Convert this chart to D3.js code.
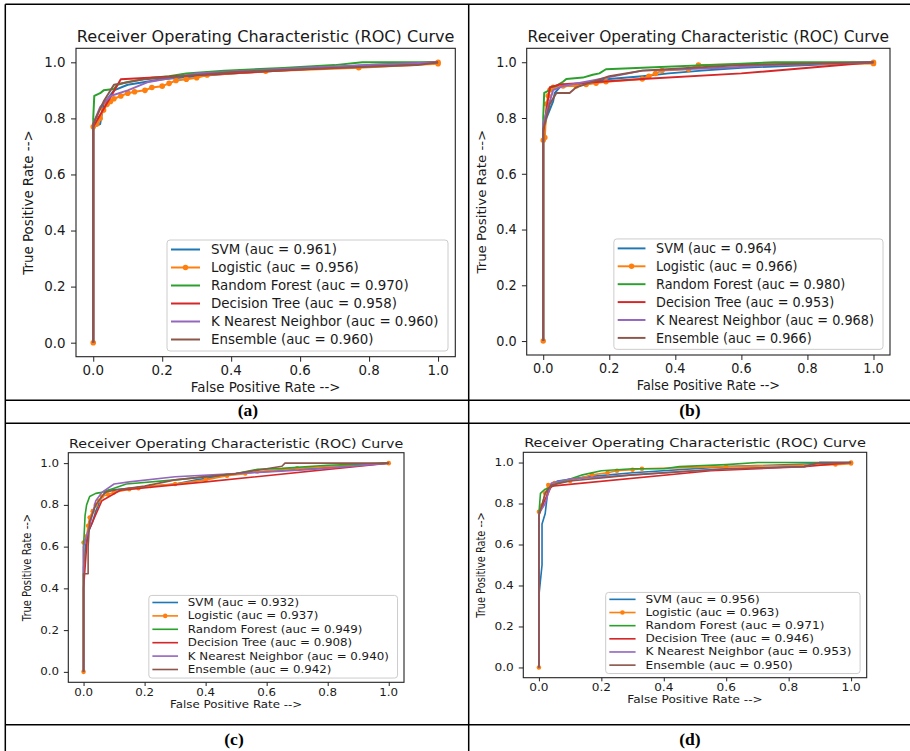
<!DOCTYPE html>
<html>
<head>
<meta charset="utf-8">
<script src="https://cdn.jsdelivr.net/npm/d3@7"></script>
<style>
  body { margin: 0; background: #fff; }
  svg { display: block; }
</style>
</head>
<body>
<script>
// ---- data -------------------------------------------------------------
const models = ["SVM", "Logistic", "Random Forest", "Decision Tree", "K Nearest Neighbor", "Ensemble"];
const panelLabels = ["(a)", "(b)", "(c)", "(d)"];
const xTicks = [0, 0.2, 0.4, 0.6, 0.8, 1.0];
const yTicks = [0, 0.2, 0.4, 0.6, 0.8, 1.0];

const aucA = [0.961, 0.956, 0.970, 0.958, 0.960, 0.960];
const aucB = [0.964, 0.966, 0.980, 0.953, 0.968, 0.966];
const aucC = [0.932, 0.937, 0.949, 0.908, 0.940, 0.942];
const aucD = [0.956, 0.963, 0.971, 0.946, 0.953, 0.950];

// ROC points as [false positive rate, true positive rate]
const svmA = [[0,0],[0,0.77],[0.02,0.78],[0.03,0.85],[0.06,0.90],[0.10,0.92],[0.20,0.94],[0.30,0.95],[0.40,0.96],[0.60,0.975],[0.80,0.99],[1,1]];
const logA = [[0,0],[0,0.77],[0.01,0.78],[0.02,0.80],[0.03,0.83],[0.04,0.85],[0.05,0.86],[0.06,0.87],[0.08,0.88],[0.10,0.89],[0.12,0.895],[0.15,0.90],[0.17,0.91],[0.20,0.915],[0.22,0.925],[0.24,0.935],[0.27,0.94],[0.30,0.945],[0.33,0.955],[0.50,0.968],[0.77,0.981],[1,0.995],[1,1]];
const rfA  = [[0,0],[0,0.80],[0.003,0.88],[0.02,0.89],[0.03,0.90],[0.06,0.905],[0.07,0.92],[0.10,0.93],[0.17,0.945],[0.22,0.95],[0.27,0.96],[0.38,0.97],[0.55,0.98],[0.70,0.99],[0.78,1.0],[1,1]];
const dtA  = [[0,0],[0,0.77],[0.08,0.94],[1,1]];
const knnA = [[0,0],[0,0.78],[0.02,0.84],[0.05,0.88],[0.10,0.90],[0.16,0.93],[0.30,0.96],[0.60,0.98],[0.80,0.99],[1,1]];
const ensA = [[0,0],[0,0.78],[0.03,0.86],[0.06,0.92],[0.15,0.94],[0.40,0.965],[0.60,0.975],[0.94,0.99],[1,1]];

const svmB = [[0,0],[0,0.75],[0.01,0.80],[0.02,0.83],[0.03,0.86],[0.035,0.89],[0.05,0.91],[0.10,0.92],[0.20,0.94],[0.30,0.95],[0.38,0.96],[0.48,0.97],[0.60,0.98],[1,1]];
const logB = [[0,0],[0,0.72],[0.005,0.73],[0.01,0.85],[0.015,0.88],[0.02,0.90],[0.03,0.91],[0.06,0.915],[0.10,0.915],[0.13,0.92],[0.16,0.925],[0.19,0.93],[0.30,0.94],[0.32,0.95],[0.34,0.96],[0.36,0.97],[0.44,0.975],[0.47,0.99],[1,0.995],[1,1]];
const rfB  = [[0,0],[0,0.80],[0.003,0.89],[0.02,0.90],[0.02,0.91],[0.04,0.915],[0.06,0.93],[0.07,0.94],[0.12,0.945],[0.15,0.955],[0.17,0.96],[0.19,0.975],[0.30,0.98],[0.60,0.995],[0.70,1.0],[1,1]];
const dtB  = [[0,0],[0,0.75],[0.02,0.91],[0.05,0.92],[0.30,0.94],[0.60,0.96],[1,1]];
const knnB = [[0,0],[0,0.78],[0.02,0.86],[0.03,0.90],[0.06,0.915],[0.15,0.935],[0.30,0.97],[0.55,0.98],[0.70,0.99],[1,1]];
const ensB = [[0,0],[0,0.76],[0.02,0.85],[0.04,0.89],[0.08,0.89],[0.10,0.91],[0.20,0.95],[0.30,0.97],[0.45,0.98],[0.60,0.99],[1,1]];

const svmC = [[0,0],[0,0.50],[0.01,0.65],[0.03,0.72],[0.04,0.77],[0.06,0.84],[0.08,0.87],[0.15,0.88],[0.30,0.90],[0.37,0.92],[0.50,0.95],[0.70,0.97],[1,1]];
const logC = [[0,0],[0,0.62],[0.01,0.65],[0.015,0.70],[0.02,0.74],[0.03,0.77],[0.04,0.80],[0.05,0.82],[0.06,0.84],[0.08,0.85],[0.10,0.86],[0.15,0.875],[0.18,0.88],[0.22,0.89],[0.30,0.90],[0.40,0.92],[0.47,0.94],[0.53,0.95],[0.57,0.96],[0.70,0.975],[1,1]];
const rfC  = [[0,0],[0,0.60],[0.005,0.75],[0.01,0.80],[0.02,0.84],[0.04,0.855],[0.06,0.86],[0.08,0.87],[0.10,0.88],[0.14,0.90],[0.30,0.92],[0.50,0.95],[0.57,0.97],[0.65,0.975],[0.80,0.99],[1,1]];
const dtC  = [[0,0],[0,0.40],[0.01,0.60],[0.015,0.67],[0.06,0.82],[0.12,0.87],[0.40,0.91],[1,1]];
const knnC = [[0,0],[0,0.60],[0.02,0.70],[0.04,0.82],[0.06,0.86],[0.10,0.90],[0.15,0.91],[0.30,0.935],[0.50,0.95],[0.75,0.97],[1,1]];
const ensC = [[0,0],[0,0.47],[0.015,0.47],[0.015,0.60],[0.02,0.72],[0.04,0.80],[0.07,0.86],[0.10,0.87],[0.20,0.89],[0.30,0.92],[0.50,0.95],[0.65,0.985],[0.66,1.0],[1,1]];

const svmD = [[0,0],[0,0.35],[0.01,0.50],[0.01,0.70],[0.02,0.75],[0.03,0.88],[0.06,0.91],[0.15,0.93],[0.30,0.95],[0.60,0.98],[1,1]];
const logD = [[0,0],[0,0.76],[0.01,0.79],[0.02,0.85],[0.03,0.89],[0.05,0.90],[0.10,0.91],[0.17,0.94],[0.22,0.95],[0.25,0.96],[0.30,0.965],[0.33,0.97],[0.60,0.98],[0.95,0.99],[1,0.995],[1,1]];
const rfD  = [[0,0],[0,0.75],[0.005,0.85],[0.02,0.87],[0.04,0.88],[0.06,0.90],[0.10,0.92],[0.14,0.94],[0.20,0.96],[0.30,0.97],[0.40,0.97],[0.45,0.98],[0.60,0.99],[0.70,1.0],[1,1]];
const dtD  = [[0,0],[0,0.75],[0.02,0.82],[0.04,0.885],[0.55,0.96],[0.85,0.98],[1,1]];
const knnD = [[0,0],[0,0.75],[0.02,0.80],[0.04,0.90],[0.10,0.92],[0.30,0.94],[0.60,0.97],[0.85,0.98],[0.90,1.0],[1,1]];
const ensD = [[0,0],[0,0.74],[0.02,0.85],[0.04,0.89],[0.10,0.91],[0.30,0.94],[0.60,0.97],[0.85,0.98],[0.90,1.0],[1,1]];

const curvesA = [svmA, logA, rfA, dtA, knnA, ensA];
const curvesB = [svmB, logB, rfB, dtB, knnB, ensB];
const curvesC = [svmC, logC, rfC, dtC, knnC, ensC];
const curvesD = [svmD, logD, rfD, dtD, knnD, ensD];

// ---- styles -----------------------------------------------------------
const modelColors = ["#1f77b4", "#ff7f0e", "#2ca02c", "#d62728", "#9467bd", "#8c564b"];
const withMarkers = [false, true, false, false, false, false];

// ---- layout -----------------------------------------------------------
const W = 910, H = 751;
const BASE_W = 379.3, BASE_H = 308.4;   // plot area size the text sizes refer to
const FONT = 13.4, TITLE_FONT = 16.1;
const panels = [
  { box: [76, 48.3, 455.3, 356.7],  cap: [248, 416], curves: curvesA, auc: aucA },
  { box: [526.7, 48.3, 890, 355],   cap: [690, 416], curves: curvesB, auc: aucB },
  { box: [68.3, 452.7, 404, 682.3], cap: [234, 745], curves: curvesC, auc: aucC },
  { box: [523.3, 452.3, 866.7, 677.7], cap: [690, 745], curves: curvesD, auc: aucD }
];

const svg = d3.select("body").append("svg").attr("width", W).attr("height", H);
svg.append("rect").attr("width", W).attr("height", H).attr("fill", "#fff");

// table grid
const grid = svg.append("g").attr("stroke", "#000").attr("stroke-width", 1.5).attr("fill", "none");
[[5.3, 4.3, W, 4.3], [5.3, 400.3, W, 400.3], [5.3, 423.3, W, 423.3], [5.3, 724.7, W, 724.7],
 [5.3, 4.3, 5.3, H], [468.7, 4.3, 468.7, H]].forEach(([a, b, c, d]) =>
  grid.append("line").attr("x1", a).attr("y1", b).attr("x2", c).attr("y2", d));

const textFont = "'DejaVu Sans', Verdana, sans-serif";

// place text with its own horizontal stretch (k) along the reading direction
function putText(g, str, x, y, size, k, anchor, rotate) {
  return g.append("text")
    .attr("transform", `translate(${x},${y})` + (rotate ? ` rotate(${rotate})` : "") + ` scale(${k},1)`)
    .attr("font-family", textFont)
    .attr("font-size", size)
    .attr("text-anchor", anchor)
    .attr("fill", "#1a1a1a")
    .text(str);
}

panels.forEach((p, pi) => {
  const [x0, y0, x1, y1] = p.box;
  const sx = (x1 - x0) / BASE_W, sy = (y1 - y0) / BASE_H;
  const fs = FONT * sy, kH = sx / sy;           // horizontal text
  const fsR = FONT * sx, kR = sy / sx;          // rotated text
  const g = svg.append("g");

  const x = d3.scaleLinear().domain([-0.05, 1.05]).range([x0, x1]);
  const y = d3.scaleLinear().domain([-0.05, 1.05]).range([y1, y0]);

  const clipId = "clip" + pi;
  g.append("clipPath").attr("id", clipId)
    .append("rect").attr("x", x0).attr("y", y0).attr("width", x1 - x0).attr("height", y1 - y0);

  // axes
  const xa = g.append("g").attr("transform", `translate(0,${y1})`)
    .call(d3.axisBottom(x).tickValues(xTicks).tickFormat(d3.format(".1f")).tickSize(5 * sy));
  const ya = g.append("g").attr("transform", `translate(${x0},0)`)
    .call(d3.axisLeft(y).tickValues(yTicks).tickFormat(d3.format(".1f")).tickSize(5 * sx));
  [xa, ya].forEach(a => {
    a.select(".domain").remove();
    a.selectAll(".tick line").attr("stroke", "#222").attr("stroke-width", 1);
    a.selectAll(".tick text").remove();
  });
  xTicks.forEach(t => putText(g, d3.format(".1f")(t), x(t), y1 + 18 * sy, fs, kH, "middle"));
  yTicks.forEach(t => putText(g, d3.format(".1f")(t), x0 - 10.5 * sx, y(t) + 0.36 * fs, fs, kH, "end"));

  // curves
  const lw = 2 * Math.sqrt(sx * sy);
  const mr = 2.8 * Math.sqrt(sx * sy);
  const line = d3.line().x(d => x(d[0])).y(d => y(d[1]));
  const plot = g.append("g").attr("clip-path", `url(#${clipId})`);
  p.curves.forEach((c, i) => {
    plot.append("path").datum(c)
      .attr("d", line)
      .attr("fill", "none")
      .attr("stroke", modelColors[i])
      .attr("stroke-width", lw)
      .attr("stroke-linejoin", "round");
    if (withMarkers[i]) {
      plot.append("g").selectAll("circle").data(c).join("circle")
        .attr("cx", d => x(d[0])).attr("cy", d => y(d[1]))
        .attr("r", mr)
        .attr("fill", modelColors[i]);
    }
  });

  // frame
  g.append("rect").attr("x", x0).attr("y", y0).attr("width", x1 - x0).attr("height", y1 - y0)
    .attr("fill", "none").attr("stroke", "#222").attr("stroke-width", 1.1);

  // titles
  putText(g, "Receiver Operating Characteristic (ROC) Curve", (x0 + x1) / 2, y0 - 6.6 * sy, TITLE_FONT * sy, kH, "middle");
  putText(g, "False Positive Rate -->", (x0 + x1) / 2, y1 + 35 * sy, fs, kH, "middle");
  putText(g, "True Positive Rate -->", x0 - 42.7 * sx, (y0 + y1) / 2, fsR, kR, "middle", -90);

  // legend
  const lx1 = x1 - 7.3 * sx, lx0 = lx1 - 281 * sx;
  const ly1 = y1 - 5.7 * sy, ly0 = ly1 - 111 * sy;
  const lg = g.append("g");
  lg.append("rect").attr("x", lx0).attr("y", ly0).attr("width", lx1 - lx0).attr("height", ly1 - ly0)
    .attr("rx", 3).attr("fill", "#fff").attr("fill-opacity", 0.8)
    .attr("stroke", "#cccccc").attr("stroke-width", 1);
  models.forEach((m, i) => {
    const cy = ly0 + (9.5 + i * 18) * sy;
    lg.append("line").attr("x1", lx0 + 4 * sx).attr("x2", lx0 + 33 * sx)
      .attr("y1", cy).attr("y2", cy)
      .attr("stroke", modelColors[i]).attr("stroke-width", lw);
    if (withMarkers[i]) {
      lg.append("circle").attr("cx", lx0 + 18.5 * sx).attr("cy", cy)
        .attr("r", mr).attr("fill", modelColors[i]);
    }
    putText(lg, `${m} (auc = ${d3.format(".3f")(p.auc[i])})`, lx0 + 44 * sx, cy + 0.36 * fs, fs, kH, "start");
  });

  // panel caption
  svg.append("text").attr("x", p.cap[0]).attr("y", p.cap[1])
    .attr("text-anchor", "middle")
    .attr("font-family", "'Liberation Serif', 'Times New Roman', serif")
    .attr("font-weight", "bold").attr("font-size", 17.5)
    .attr("fill", "#000")
    .text(panelLabels[pi]);
});
</script>
</body>
</html>
